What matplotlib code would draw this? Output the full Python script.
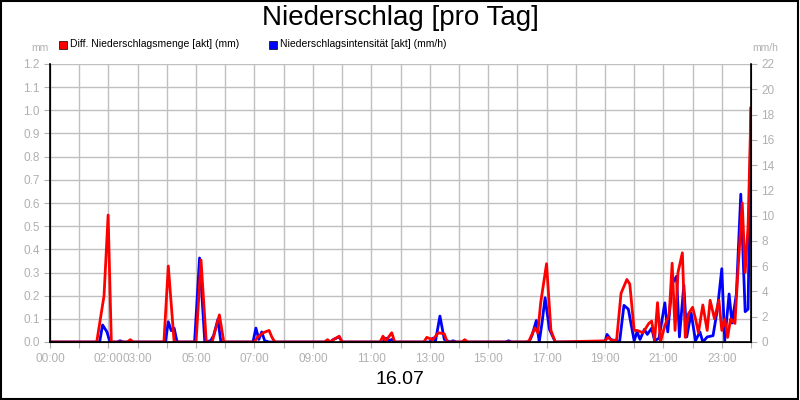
import matplotlib
matplotlib.use("Agg")
import matplotlib.pyplot as plt
from matplotlib.patches import Rectangle

plt.rcParams['font.family'] = ['Liberation Sans', 'DejaVu Sans']

red_h = [0, 1.6, 1.85, 1.99, 2.1, 2.65, 2.75, 2.85, 3.9, 4.05, 4.25, 5.0, 5.17, 5.35, 5.55, 5.8, 5.95,
         7.0, 7.1, 7.3, 7.5, 7.6, 7.7, 9.4, 9.5, 9.6, 9.7, 9.9, 10.0, 11.3, 11.4, 11.5, 11.7, 11.8,
         12.8, 12.9, 13.1, 13.3, 13.5, 13.6, 14.1, 14.2, 14.3, 16.3, 16.4, 16.6, 16.7, 16.8, 17.0, 17.15, 17.3,
         19.0, 19.1, 19.25, 19.4, 19.55, 19.75, 19.85, 20.0, 20.1, 20.3, 20.5, 20.6, 20.7, 20.8, 20.9,
         21.05, 21.2, 21.3, 21.4, 21.5, 21.65, 21.75, 21.85, 22.0, 22.1, 22.2, 22.35, 22.5, 22.6,
         22.75, 22.9, 23.0, 23.1, 23.2, 23.3, 23.45, 23.55, 23.7, 23.8, 23.9, 24.0]
red_v = [0, 0, 0.2, 0.548, 0, 0, 0.01, 0, 0, 0.328, 0, 0, 0.354, 0, 0, 0.117, 0,
         0, 0.02, 0.04, 0.05, 0.02, 0, 0, 0.01, 0, 0.01, 0.025, 0, 0, 0.025, 0.005, 0.04, 0,
         0, 0.02, 0.01, 0.04, 0.035, 0, 0, 0.01, 0, 0, 0.005, 0.06, 0.04, 0.17, 0.338, 0.05, 0,
         0.005, 0.02, 0.005, 0.01, 0.21, 0.27, 0.25, 0.05, 0.05, 0.04, 0.08, 0.09, 0.01, 0.17, 0.0,
         0.07, 0.12, 0.34, 0.05, 0.3, 0.385, 0.02, 0.12, 0.15, 0.1, 0.04, 0.16, 0.05, 0.18,
         0.1, 0.18, 0.05, 0.1, 0.02, 0.1, 0.08, 0.3, 0.6, 0.3, 0.5, 1.01]

blue_h = [0, 1.7, 1.8, 1.95, 2.05, 2.3, 2.4, 2.5, 3.95, 4.05, 4.15, 4.25, 4.35, 4.95, 5.12, 5.3,
          5.5, 5.6, 5.75, 5.85, 6.95, 7.05, 7.15, 7.25, 7.35, 7.5, 9.6, 9.7, 9.9, 10.0,
          11.4, 11.5, 11.6, 11.7, 11.8, 13.0, 13.1, 13.2, 13.35, 13.5, 13.7, 13.8, 13.9,
          15.6, 15.7, 15.8, 16.4, 16.5, 16.65, 16.75, 16.85, 16.95, 17.1, 17.3,
          19.0, 19.07, 19.2, 19.5, 19.65, 19.8, 20.0, 20.1, 20.2, 20.35, 20.45, 20.6, 20.7, 20.85,
          21.05, 21.15, 21.3, 21.45, 21.55, 21.7, 21.8, 21.95, 22.1, 22.25, 22.35, 22.5, 22.7,
          22.85, 23.0, 23.1, 23.25, 23.35, 23.5, 23.65, 23.8, 23.9, 24.0]
blue_v = [0, 0, 1.35, 0.8, 0, 0, 0.1, 0, 0, 1.6, 0.9, 1.1, 0, 0, 6.65, 0,
          0.1, 0.5, 1.8, 0, 0, 1.1, 0.2, 0.8, 0.1, 0, 0, 0.2, 0.4, 0,
          0, 0.3, 0.1, 0.2, 0, 0, 0.3, 0.1, 2.05, 0.2, 0, 0.1, 0,
          0, 0.1, 0, 0, 0.5, 1.7, 0.0, 1.6, 3.5, 1.0, 0,
          0, 0.6, 0.2, 0, 2.9, 2.6, 0.1, 0.8, 0.2, 1.0, 0.6, 1.1, 0.1, 0.3,
          3.1, 0.8, 4.6, 5.2, 0.4, 4.5, 0.4, 2.3, 0.1, 0.8, 0, 0.4, 0.5,
          2.6, 5.8, 0.1, 3.8, 1.5, 3.8, 11.7, 2.4, 2.6, 18.5]

tick_hours = [0, 2, 3, 5, 7, 9, 11, 13, 15, 17, 19, 21, 23]
tick_labels = ["00:00", "02:00", "03:00", "05:00", "07:00", "09:00", "11:00", "13:00",
               "15:00", "17:00", "19:00", "21:00", "23:00"]

LEFT_MAX, RIGHT_MAX = 1.2, 22
grey = "#b0b0b0"

fig = plt.figure(figsize=(8, 4), dpi=100)
fig.patches.append(Rectangle((0.001, 0.002), 0.997, 0.995, transform=fig.transFigure,
                             fill=False, edgecolor="black", lw=1.5))
ax = fig.add_axes([50/800, 58/400, 701/800, 278/400])
ax.set_xlim(0, 24)
ax.set_ylim(0, LEFT_MAX)
hours = list(range(0, 25))
lab_map = dict(zip(tick_hours, tick_labels))
ax.set_xticks(hours)
ax.set_xticklabels([lab_map.get(h, "") for h in hours])
ax.tick_params(axis="x", length=4, color=grey, labelsize=8.5, labelcolor=grey, pad=4)
ax.set_yticks([i/10 for i in range(13)])
ax.set_yticklabels([f"{i/10:.1f}" for i in range(13)])
ax.tick_params(axis="y", length=4, color=grey, labelsize=8.5, labelcolor=grey)
ax.grid(True, which="major", color="#c0c0c0", lw=1)
ax.set_axisbelow(True)
ax.spines["top"].set_visible(False)
for s in ["left", "bottom", "right"]:
    ax.spines[s].set_linewidth(1.2)

ax.plot(blue_h, [v*LEFT_MAX/RIGHT_MAX for v in blue_v], color="#0000ff", lw=2)
ax.plot(red_h, red_v, color="#ff0000", lw=2)

ax2 = ax.twinx()
ax2.set_ylim(0, RIGHT_MAX)
ax2.set_yticks(range(0, 23, 2))
ax2.tick_params(axis="y", length=4, color=grey, labelsize=8.5, labelcolor=grey)
ax2.spines["top"].set_visible(False)

fig.text(0.5, 0.955, "Niederschlag [pro Tag]", ha="center", va="center", fontsize=20)
fig.text(40/800, 1-48/400, "mm", ha="center", va="center", fontsize=7.5, color=grey)
fig.text(765/800, 1-48/400, "mm/h", ha="center", va="center", fontsize=7.5, color=grey)
fig.patches.append(Rectangle((59/800, 1-49/400), 8/800, 8/400, transform=fig.transFigure,
                             facecolor="#ff0000", edgecolor="black", lw=0.5))
fig.text(70/800, 1-44/400, "Diff. Niederschlagsmenge [akt] (mm)", va="center", fontsize=7.5)
fig.patches.append(Rectangle((269/800, 1-49/400), 8/800, 8/400, transform=fig.transFigure,
                             facecolor="#0000ff", edgecolor="black", lw=0.5))
fig.text(280/800, 1-44/400, "Niederschlagsintensität [akt] (mm/h)", va="center", fontsize=7.5)
fig.text(0.5, 1-380/400, "16.07", ha="center", va="center", fontsize=14)

fig.savefig("out.png", dpi=100)
